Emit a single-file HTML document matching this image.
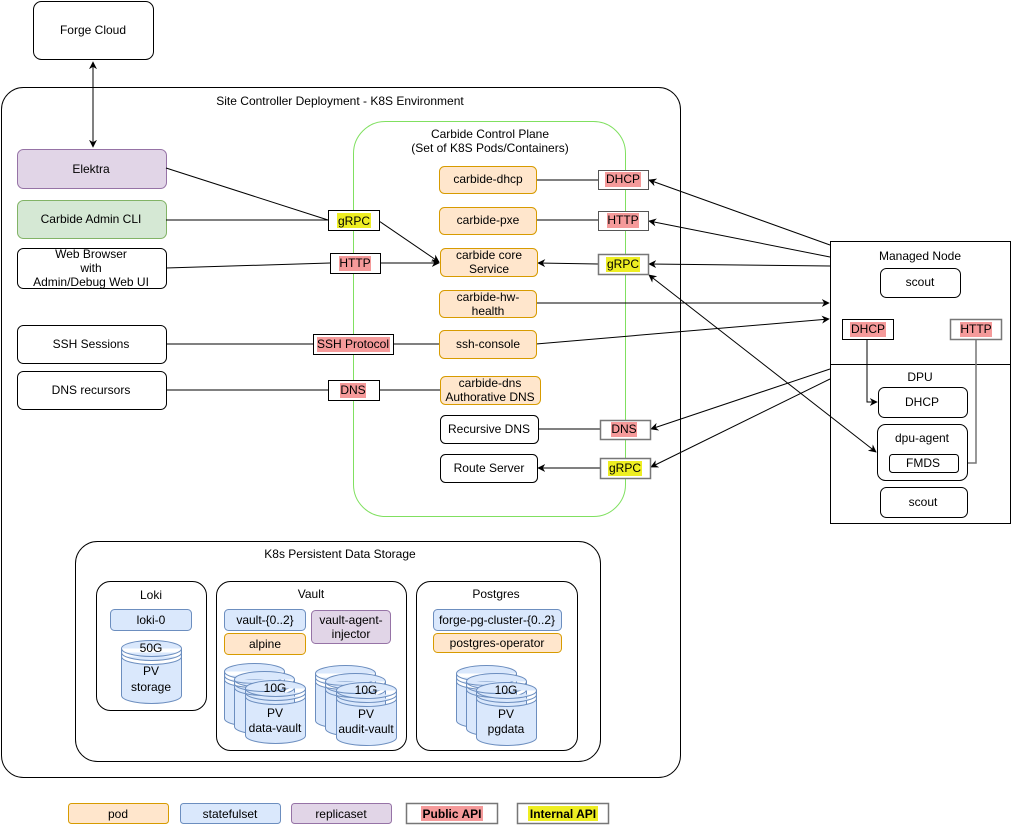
<!DOCTYPE html>
<html><head><meta charset="utf-8"><style>
html,body{margin:0;padding:0;background:#fff}
svg{display:block}
text{font-family:"Liberation Sans",Arial,sans-serif;font-size:12px;fill:#000;text-anchor:middle;dominant-baseline:central}
</style></head><body>
<svg width="1011" height="825" viewBox="0 0 1011 825" xmlns="http://www.w3.org/2000/svg">
<defs>
<marker id="a" viewBox="0 0 10 10" refX="9" refY="5" markerWidth="8" markerHeight="8" orient="auto-start-reverse" markerUnits="userSpaceOnUse"><path d="M0,0 L10,5 L0,10 L3,5 Z" fill="#000"/></marker>
</defs>
<g fill="none" stroke="#000" stroke-width="1">
<!-- containers -->
<rect x="33.5" y="1.5" width="120" height="58" rx="8"/>
<rect x="1.5" y="87.5" width="679" height="690" rx="22"/>
<rect x="353.5" y="121.5" width="272" height="395" rx="32" stroke="#80e060"/>
<rect x="75.5" y="541.5" width="525" height="220" rx="22"/>
<rect x="96.5" y="581.5" width="110" height="129" rx="14"/>
<rect x="216.5" y="581.5" width="190" height="169" rx="14"/>
<rect x="416.5" y="581.5" width="161" height="169" rx="14"/>
<rect x="830.5" y="241.5" width="180" height="123"/>
<rect x="830.5" y="364.5" width="180" height="159"/>
</g>
<text x="93" y="30">Forge Cloud</text>
<text x="340" y="101">Site Controller Deployment - K8S Environment</text>
<text x="490" y="134">Carbide Control Plane</text>
<text x="490" y="148">(Set of K8S Pods/Containers)</text>
<text x="340" y="554">K8s Persistent Data Storage</text>
<text x="151" y="595">Loki</text>
<text x="311" y="594">Vault</text>
<text x="496" y="594">Postgres</text>
<text x="920" y="256">Managed Node</text>
<text x="920" y="377">DPU</text>

<!-- left nodes -->
<rect x="17.5" y="149.5" width="149" height="39" rx="6" fill="#e1d5e7" stroke="#9673a6"/>
<text x="91" y="169">Elektra</text>
<rect x="17.5" y="200.5" width="149" height="38" rx="6" fill="#d5e8d4" stroke="#82b366"/>
<text x="91" y="219">Carbide Admin CLI</text>
<rect x="17.5" y="248.5" width="149" height="40" rx="6" fill="#fff" stroke="#000"/>
<text x="91" y="254">Web Browser</text>
<text x="91" y="268">with</text>
<text x="91" y="282">Admin/Debug Web UI</text>
<rect x="17.5" y="325.5" width="149" height="38" rx="6" fill="#fff" stroke="#000"/>
<text x="91" y="344">SSH Sessions</text>
<rect x="17.5" y="371.5" width="149" height="38" rx="6" fill="#fff" stroke="#000"/>
<text x="91" y="390">DNS recursors</text>

<!-- connectors -->
<g fill="none" stroke="#000" stroke-width="1">
<line x1="93" y1="62" x2="93" y2="147" marker-start="url(#a)" marker-end="url(#a)"/>
<line x1="166" y1="168" x2="328" y2="220"/>
<line x1="166" y1="220" x2="328" y2="220"/>
<line x1="379" y1="221" x2="439" y2="262" marker-end="url(#a)"/>
<line x1="166" y1="268" x2="330" y2="263"/>
<line x1="380" y1="263" x2="439" y2="263" marker-end="url(#a)"/>
<line x1="166" y1="344" x2="313" y2="344"/>
<line x1="393" y1="344" x2="439" y2="344"/>
<line x1="166" y1="390" x2="328" y2="390"/>
<line x1="379" y1="390" x2="440" y2="390"/>
<line x1="536" y1="180" x2="598" y2="180"/>
<line x1="536" y1="220" x2="598" y2="220"/>
<line x1="598" y1="264" x2="538" y2="263" marker-end="url(#a)"/>
<line x1="538" y1="429" x2="600" y2="429"/>
<line x1="600" y1="468" x2="538" y2="468" marker-end="url(#a)"/>
<line x1="830" y1="245" x2="649" y2="180" marker-end="url(#a)"/>
<line x1="830" y1="257" x2="649" y2="221" marker-end="url(#a)"/>
<line x1="830" y1="266" x2="649" y2="264" marker-end="url(#a)"/>
<line x1="649" y1="275" x2="876" y2="452" marker-start="url(#a)" marker-end="url(#a)"/>
<line x1="536" y1="303" x2="829" y2="303" marker-end="url(#a)"/>
<line x1="536" y1="344" x2="829" y2="319" marker-end="url(#a)"/>
<line x1="830" y1="369" x2="651" y2="429" marker-end="url(#a)"/>
<line x1="830" y1="379" x2="651" y2="467" marker-end="url(#a)"/>
<polyline points="867,339 867,402 877,402" marker-end="url(#a)"/>
<polyline points="976,339 976,463 959,463" stroke="#777" stroke-width="1.5" marker-end="url(#a)"/>
</g>

<!-- API labels -->
<g font-size="12">
<rect x="328.5" y="210.5" width="51" height="20" fill="#fff" stroke="#000"/><rect x="337" y="213" width="34" height="15" fill="#eeee22"/><text x="354" y="221">gRPC</text>
<rect x="330.5" y="253.5" width="50" height="20" fill="#fff" stroke="#000"/><rect x="339" y="256" width="32" height="15" fill="#f59a9a"/><text x="355" y="263">HTTP</text>
<rect x="313.5" y="334.5" width="80" height="20" fill="#fff" stroke="#000"/><rect x="317" y="337" width="73" height="15" fill="#f59a9a"/><text x="353" y="344">SSH Protocol</text>
<rect x="328.5" y="380.5" width="51" height="20" fill="#fff" stroke="#000"/><rect x="340" y="383" width="26" height="15" fill="#f59a9a"/><text x="353" y="390">DNS</text>
<rect x="598.5" y="170.5" width="50" height="19" fill="#fff" stroke="#555"/><rect x="605" y="172" width="36" height="15" fill="#f59a9a"/><text x="623" y="179">DHCP</text>
<rect x="598.5" y="211.5" width="50" height="19" fill="#fff" stroke="#555"/><rect x="607" y="213" width="32" height="15" fill="#f59a9a"/><text x="623" y="220">HTTP</text>
<rect x="598.5" y="254.5" width="50" height="20" fill="#fff" stroke="#777" stroke-width="1.5"/><rect x="606" y="257" width="34" height="15" fill="#eeee22"/><text x="623" y="264">gRPC</text>
<rect x="600.5" y="420.5" width="50" height="19" fill="#fff" stroke="#777" stroke-width="1.5"/><rect x="611" y="422" width="26" height="15" fill="#f59a9a"/><text x="624" y="429">DNS</text>
<rect x="600.5" y="458.5" width="50" height="20" fill="#fff" stroke="#777" stroke-width="1.5"/><rect x="608" y="461" width="34" height="15" fill="#eeee22"/><text x="625" y="468">gRPC</text>
<rect x="842.5" y="319.5" width="51" height="20" fill="#fff" stroke="#000"/><rect x="850" y="322" width="36" height="15" fill="#f59a9a"/><text x="868" y="329">DHCP</text>
<rect x="950.5" y="319.5" width="51" height="20" fill="#fff" stroke="#777" stroke-width="1.5"/><rect x="960" y="322" width="32" height="15" fill="#f59a9a"/><text x="976" y="329">HTTP</text>
</g>

<!-- pods -->
<g fill="#ffe6cc" stroke="#d79b00">
<rect x="439.5" y="166.5" width="97" height="27" rx="5"/>
<rect x="439.5" y="207.5" width="97" height="27" rx="5"/>
<rect x="440.5" y="248.5" width="97" height="28" rx="5"/>
<rect x="439.5" y="290.5" width="97" height="27" rx="5"/>
<rect x="439.5" y="330.5" width="97" height="28" rx="5"/>
<rect x="440.5" y="376.5" width="100" height="28" rx="5"/>
</g>
<g fill="#fff" stroke="#000">
<rect x="440.5" y="415.5" width="98" height="28" rx="5"/>
<rect x="440.5" y="454.5" width="97" height="28" rx="5"/>
</g>
<text x="488" y="179">carbide-dhcp</text>
<text x="488" y="220">carbide-pxe</text>
<text x="489" y="255">carbide core</text>
<text x="489" y="269">Service</text>
<text x="488" y="297">carbide-hw-</text>
<text x="488" y="311">health</text>
<text x="488" y="344">ssh-console</text>
<text x="490" y="383">carbide-dns</text>
<text x="490" y="397">Authorative DNS</text>
<text x="489" y="429">Recursive DNS</text>
<text x="489" y="468">Route Server</text>

<!-- managed node / dpu -->
<g fill="#fff" stroke="#000">
<rect x="880.5" y="268.5" width="80" height="29" rx="6"/>
<rect x="878.5" y="387.5" width="89" height="30" rx="6"/>
<rect x="877.5" y="424.5" width="90" height="56" rx="8"/>
<rect x="889.5" y="454.5" width="69" height="18" rx="3"/>
<rect x="880.5" y="487.5" width="87" height="30" rx="6"/>
</g>
<text x="920" y="282">scout</text>
<text x="922" y="402">DHCP</text>
<text x="922" y="438">dpu-agent</text>
<text x="923" y="463">FMDS</text>
<text x="923" y="502">scout</text>

<!-- storage -->
<g fill="#dae8fc" stroke="#6c8ebf">
<rect x="110.5" y="609.5" width="81" height="21" rx="4"/>
<rect x="224.5" y="609.5" width="81" height="21" rx="4"/>
<rect x="433.5" y="609.5" width="128" height="21" rx="4"/>
</g>
<rect x="224.5" y="633.5" width="81" height="21" rx="4" fill="#ffe6cc" stroke="#d79b00"/>
<rect x="433.5" y="633.5" width="128" height="19" rx="4" fill="#ffe6cc" stroke="#d79b00"/>
<rect x="311.5" y="610.5" width="79" height="33" rx="4" fill="#e1d5e7" stroke="#9673a6"/>
<text x="151" y="620">loki-0</text>
<text x="265" y="620">vault-{0..2}</text>
<text x="497" y="620">forge-pg-cluster-{0..2}</text>
<text x="265" y="644">alpine</text>
<text x="497" y="643">postgres-operator</text>
<text x="351" y="620">vault-agent-</text>
<text x="351" y="634">injector</text>

<g fill="#dae8fc" stroke="#6c8ebf">
<path id="c" d="M0,8 A30,8 0 0 1 60,8 V55 A30,8 0 0 1 0,55 Z M0,8 A30,8 0 0 0 60,8 M0,12 A30,8 0 0 0 60,12 M0,16 A30,8 0 0 0 60,16" transform="translate(121.5,640.5)"/>
<path d="M0,8 A30,8 0 0 1 60,8 V55 A30,8 0 0 1 0,55 Z M0,8 A30,8 0 0 0 60,8 M0,12 A30,8 0 0 0 60,12 M0,16 A30,8 0 0 0 60,16" transform="translate(224.5,663.5)"/>
<path d="M0,8 A30,8 0 0 1 60,8 V55 A30,8 0 0 1 0,55 Z M0,8 A30,8 0 0 0 60,8 M0,12 A30,8 0 0 0 60,12 M0,16 A30,8 0 0 0 60,16" transform="translate(234.5,671.5)"/>
<path d="M0,8 A30,8 0 0 1 60,8 V55 A30,8 0 0 1 0,55 Z M0,8 A30,8 0 0 0 60,8 M0,12 A30,8 0 0 0 60,12 M0,16 A30,8 0 0 0 60,16" transform="translate(245.5,680.5)"/>
<path d="M0,8 A30,8 0 0 1 60,8 V55 A30,8 0 0 1 0,55 Z M0,8 A30,8 0 0 0 60,8 M0,12 A30,8 0 0 0 60,12 M0,16 A30,8 0 0 0 60,16" transform="translate(315.5,665.5)"/>
<path d="M0,8 A30,8 0 0 1 60,8 V55 A30,8 0 0 1 0,55 Z M0,8 A30,8 0 0 0 60,8 M0,12 A30,8 0 0 0 60,12 M0,16 A30,8 0 0 0 60,16" transform="translate(325.5,673.5)"/>
<path d="M0,8 A30,8 0 0 1 60,8 V55 A30,8 0 0 1 0,55 Z M0,8 A30,8 0 0 0 60,8 M0,12 A30,8 0 0 0 60,12 M0,16 A30,8 0 0 0 60,16" transform="translate(336.5,682.5)"/>
<path d="M0,8 A30,8 0 0 1 60,8 V55 A30,8 0 0 1 0,55 Z M0,8 A30,8 0 0 0 60,8 M0,12 A30,8 0 0 0 60,12 M0,16 A30,8 0 0 0 60,16" transform="translate(456.5,665.5)"/>
<path d="M0,8 A30,8 0 0 1 60,8 V55 A30,8 0 0 1 0,55 Z M0,8 A30,8 0 0 0 60,8 M0,12 A30,8 0 0 0 60,12 M0,16 A30,8 0 0 0 60,16" transform="translate(466.5,673.5)"/>
<path d="M0,8 A30,8 0 0 1 60,8 V55 A30,8 0 0 1 0,55 Z M0,8 A30,8 0 0 0 60,8 M0,12 A30,8 0 0 0 60,12 M0,16 A30,8 0 0 0 60,16" transform="translate(476.5,682.5)"/>
</g>
<text x="151" y="648">50G</text>
<text x="151" y="671">PV</text>
<text x="151" y="687">storage</text>
<text x="275" y="688">10G</text>
<text x="275" y="713">PV</text>
<text x="275" y="728">data-vault</text>
<text x="366" y="690">10G</text>
<text x="366" y="714">PV</text>
<text x="366" y="729">audit-vault</text>
<text x="506" y="690">10G</text>
<text x="506" y="714">PV</text>
<text x="506" y="729">pgdata</text>

<!-- legend -->
<rect x="68.5" y="803.5" width="100" height="20" rx="3" fill="#ffe6cc" stroke="#d79b00"/>
<text x="118" y="814">pod</text>
<rect x="180.5" y="803.5" width="100" height="20" rx="3" fill="#dae8fc" stroke="#6c8ebf"/>
<text x="230" y="814">statefulset</text>
<rect x="291.5" y="803.5" width="100" height="20" rx="3" fill="#e1d5e7" stroke="#9673a6"/>
<text x="341" y="814">replicaset</text>
<rect x="406.5" y="803.5" width="91" height="20" fill="#fff" stroke="#777" stroke-width="1.5"/>
<rect x="421" y="806" width="62" height="15" fill="#f59a9a"/>
<text x="452" y="814" font-weight="bold">Public API</text>
<rect x="517.5" y="803.5" width="91" height="20" fill="#fff" stroke="#777" stroke-width="1.5"/>
<rect x="528" y="806" width="70" height="15" fill="#eeee22"/>
<text x="563" y="814" font-weight="bold">Internal API</text>
</svg>
</body></html>
